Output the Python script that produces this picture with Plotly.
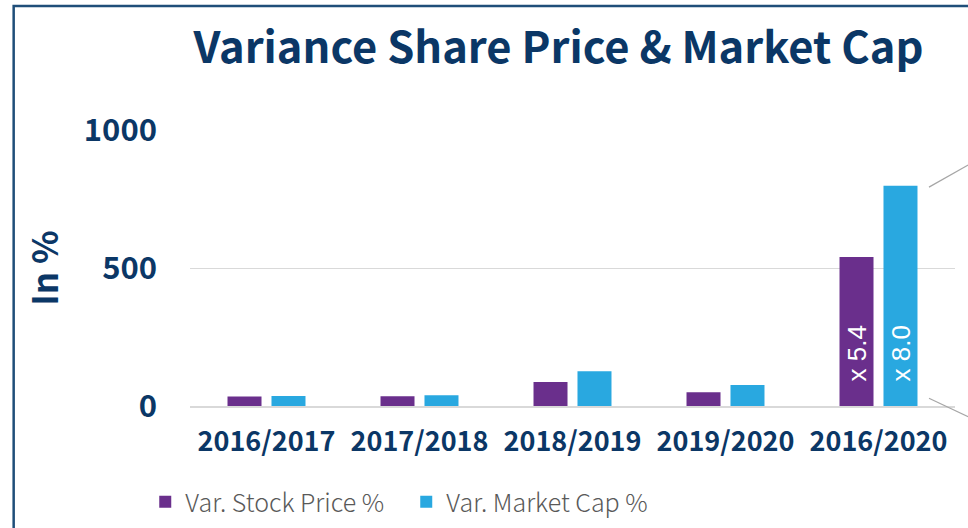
import plotly.graph_objects as go

categories = ["2016/2017", "2017/2018", "2018/2019", "2019/2020", "2016/2020"]
stock_price_var = [34, 35, 87, 50, 540]
market_cap_var = [36, 39, 126, 76, 798]
bar_labels_stock = ["", "", "", "", "x 5.4"]
bar_labels_cap = ["", "", "", "", "x 8.0"]
y_ticks = [0, 500, 1000]

NAVY = "#0B3766"
PURPLE = "#6A2F8C"
BLUE = "#29A8E0"
CJK = "Noto Sans CJK JP"

fig = go.Figure()
fig.add_trace(go.Bar(name="Var. Stock Price %", x=categories, y=stock_price_var,
                     marker=dict(color=PURPLE, line=dict(width=0))))
fig.add_trace(go.Bar(name="Var. Market Cap %", x=categories, y=market_cap_var,
                     marker=dict(color=BLUE, line=dict(width=0))))

# rotated multiplier labels inside the last bars
for labels, shift in ((bar_labels_stock, -22), (bar_labels_cap, 22)):
    for cat, lab in zip(categories, labels):
        if lab:
            fig.add_annotation(x=cat, y=0, xref="x", yref="y", text=lab, showarrow=False,
                               textangle=-90, xanchor="center", yanchor="bottom",
                               xshift=shift, yshift=22,
                               font=dict(family="Liberation Sans", size=26, color="white"))

fig.update_layout(
    width=968, height=528,
    margin=dict(l=190, r=13, t=130, b=122, autoexpand=False),
    paper_bgcolor="white", plot_bgcolor="white",
    barmode="group", bargap=0.425, bargroupgap=0.227,
    title=dict(text="<b>Variance Share Price & Market Cap</b>", xref="container", yref="container",
               x=0.577, xanchor="center", y=0.909, yanchor="middle",
               font=dict(family=CJK, size=43.5, color=NAVY), automargin=False),
    showlegend=True,
    legend=dict(orientation="h", x=-0.0585, xanchor="left", y=-0.348, yanchor="middle",
                font=dict(family=CJK, size=25, color="#595959", weight=300),
                entrywidth=216, entrywidthmode="pixels", traceorder="normal",
                itemsizing="constant"),
    xaxis=dict(showgrid=False, showline=True, linecolor="#D9D9D9", linewidth=2, automargin=False,
               ticks="", tickfont=dict(family=CJK, size=27, color=NAVY, weight="bold"),
               ticklabelstandoff=11),
    yaxis=dict(range=[0, 1000], tickvals=y_ticks, showgrid=True, gridcolor="#D9D9D9", gridwidth=1.3,
               zeroline=False, showline=False, ticks="", automargin=False,
               tickfont=dict(family=CJK, size=31, color=NAVY, weight="bold"),
               ticklabelstandoff=32,
               title=dict(text="<b>In %</b>", font=dict(family=CJK, size=35, color=NAVY), standoff=14)),
)

# frame around the chart and callout lines at the right
fig.add_shape(type="rect", xref="paper", yref="paper", x0=-0.2305, y0=-1.0, x1=2.0, y1=1.449,
              line=dict(color="#1F4E79", width=2.5), fillcolor="rgba(0,0,0,0)", layer="above")
fig.add_shape(type="line", xref="paper", yref="paper", x0=0.966, y0=0.793, x1=1.0172, y1=0.873,
              line=dict(color="#A6A6A6", width=1.2))
fig.add_shape(type="line", xref="paper", yref="paper", x0=0.966, y0=0.028, x1=1.0172, y1=-0.039,
              line=dict(color="#A6A6A6", width=1.2))

fig.write_html("out.html", config={"displayModeBar": False},
               post_script="document.body.style.margin='0';document.body.style.overflow='hidden';")
